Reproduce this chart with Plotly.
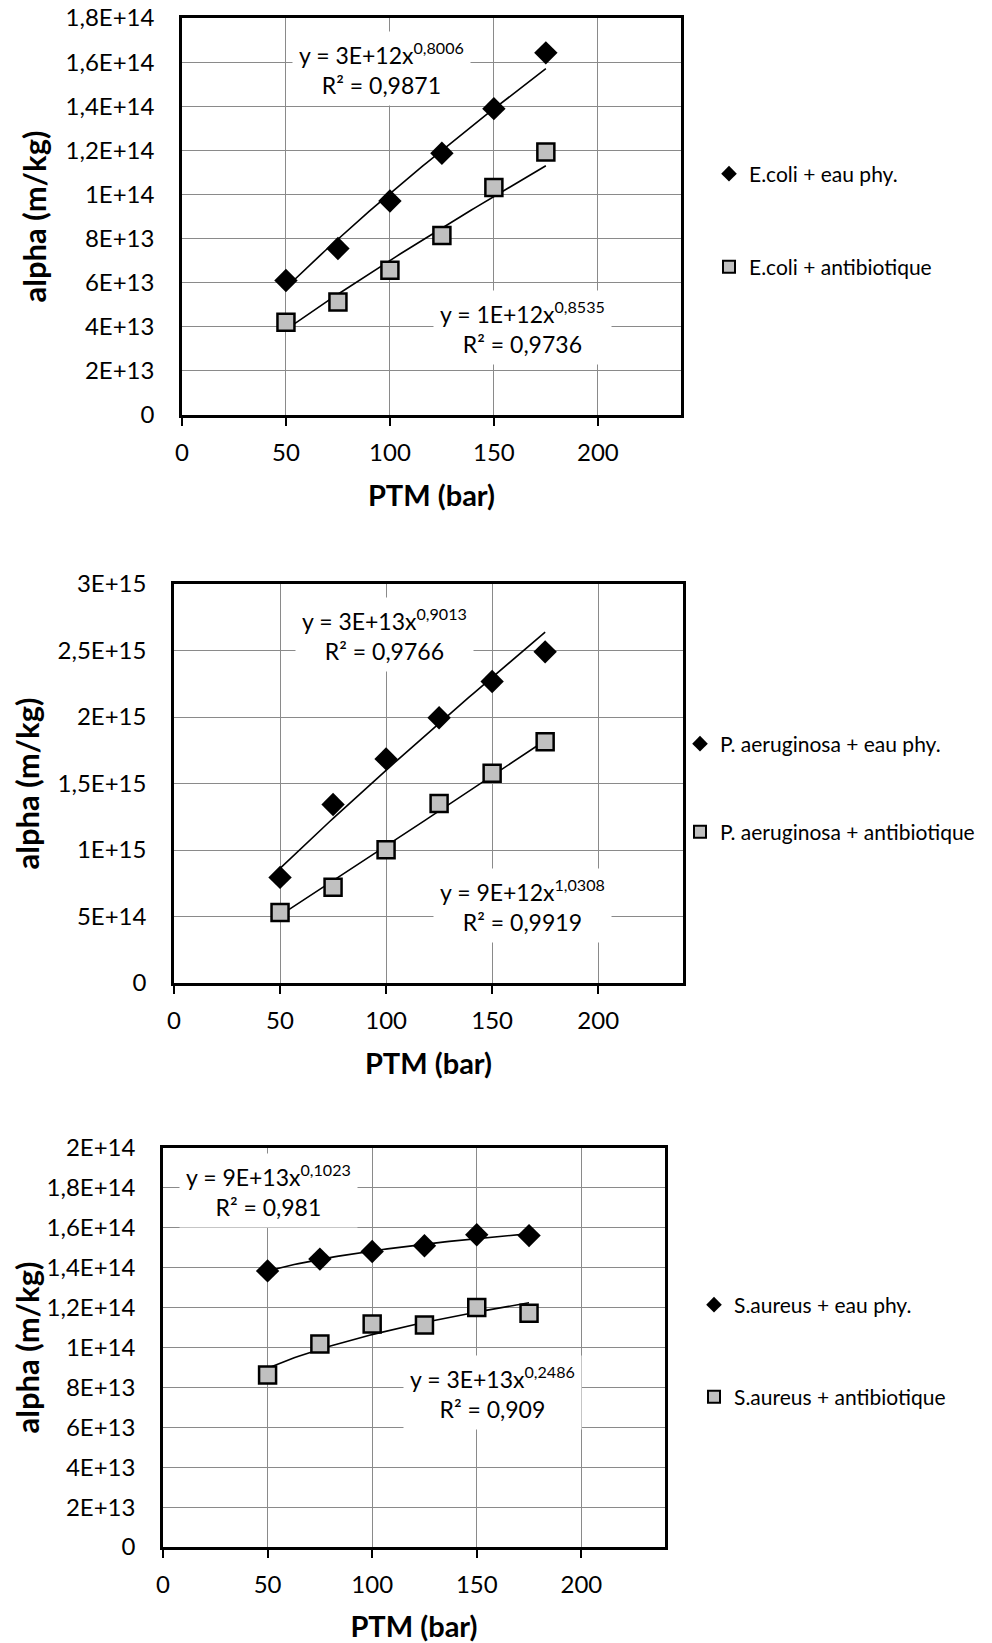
import numpy as np
import plotly.graph_objects as go

# ---------------- data ----------------
ptm = [50, 75, 100, 125, 150, 175]

ecoli_eau = [6.1e13, 7.55e13, 9.7e13, 1.187e14, 1.389e14, 1.642e14]
ecoli_anti = [4.2e13, 5.12e13, 6.56e13, 8.14e13, 1.031e14, 1.192e14]

paer_eau = [7.94e14, 1.342e15, 1.685e15, 1.994e15, 2.267e15, 2.49e15]
paer_anti = [5.31e14, 7.19e14, 1.001e15, 1.35e15, 1.578e15, 1.814e15]

saur_eau = [1.384e14, 1.443e14, 1.481e14, 1.51e14, 1.565e14, 1.561e14]
saur_anti = [8.62e13, 1.018e14, 1.118e14, 1.113e14, 1.2e14, 1.172e14]

names_eau = ["E.coli + eau phy.", "P. aeruginosa + eau phy.", "S.aureus + eau phy."]
names_anti = ["E.coli + antibiotique", "P. aeruginosa + antibiotique", "S.aureus + antibiotique"]

eq_eau = ["y = 3E+12x<sup>0,8006</sup><br>R² = 0,9871",
          "y = 3E+13x<sup>0,9013</sup><br>R² = 0,9766",
          "y = 9E+13x<sup>0,1023</sup><br>R² = 0,981"]
eq_anti = ["y = 1E+12x<sup>0,8535</sup><br>R² = 0,9736",
           "y = 9E+12x<sup>1,0308</sup><br>R² = 0,9919",
           "y = 3E+13x<sup>0,2486</sup><br>R² = 0,909"]

x_ticks = [0, 50, 100, 150, 200]
y1_ticks = [0, 2e13, 4e13, 6e13, 8e13, 1e14, 1.2e14, 1.4e14, 1.6e14, 1.8e14]
y1_labels = ["0", "2E+13", "4E+13", "6E+13", "8E+13", "1E+14", "1,2E+14", "1,4E+14", "1,6E+14", "1,8E+14"]
y2_ticks = [0, 5e14, 1e15, 1.5e15, 2e15, 2.5e15, 3e15]
y2_labels = ["0", "5E+14", "1E+15", "1,5E+15", "2E+15", "2,5E+15", "3E+15"]
y3_ticks = [0, 2e13, 4e13, 6e13, 8e13, 1e14, 1.2e14, 1.4e14, 1.6e14, 1.8e14, 2e14]
y3_labels = ["0", "2E+13", "4E+13", "6E+13", "8E+13", "1E+14", "1,2E+14", "1,4E+14", "1,6E+14", "1,8E+14", "2E+14"]

# ---------------- layout geometry (page pixels) ----------------
PAGE_W, PAGE_H = 992, 1643
BODY = 8  # default body margin of the html page
W, H = PAGE_W - BODY, PAGE_H - BODY
FONT = "Lato"
panels = [
    dict(x0=182, x1=681, y0=18, y1=415, ymax=1.8e14, yt=y1_ticks, yl=y1_labels,
         eau=ecoli_eau, anti=ecoli_anti, eq1=(381, 68), eq2=(522, 328),
         leg1=(737, 174), leg2=(737, 267)),
    dict(x0=174, x1=683, y0=584, y1=983, ymax=3e15, yt=y2_ticks, yl=y2_labels,
         eau=paer_eau, anti=paer_anti, eq1=(384, 634), eq2=(522, 905),
         leg1=(708, 744), leg2=(708, 832)),
    dict(x0=163, x1=665, y0=1148, y1=1547, ymax=2e14, yt=y3_ticks, yl=y3_labels,
         eau=saur_eau, anti=saur_anti, eq1=(268, 1190), eq2=(492, 1392),
         leg1=(722, 1305), leg2=(722, 1397)),
]


def px(x):
    return (x - BODY) / W


def py(y):
    return 1 - (y - BODY) / H


def power_fit(x, y):
    b, lna = np.polyfit(np.log(x), np.log(y), 1)
    xs = np.linspace(min(x), max(x), 60)
    return xs, np.exp(lna) * xs ** b


fig = go.Figure()
layout = dict(width=W, height=H, margin=dict(l=0, r=0, t=0, b=0, autoexpand=False),
              paper_bgcolor="white", plot_bgcolor="white",
              font=dict(family=FONT, color="black"), annotations=[])

for i, p in enumerate(panels):
    k = "" if i == 0 else str(i + 1)
    xa, ya = "x" + k, "y" + k
    # trend lines (power regression, as Excel does)
    for ser in (p["eau"], p["anti"]):
        xs, ys = power_fit(ptm, ser)
        fig.add_trace(go.Scatter(x=xs, y=ys, mode="lines", line=dict(color="black", width=1.6),
                                 showlegend=False, hoverinfo="skip", xaxis=xa, yaxis=ya))
    lg1 = "legend" if i == 0 else "legend" + str(2 * i + 1)
    lg2 = "legend" + str(2 * i + 2)
    fig.add_trace(go.Scatter(x=ptm, y=p["eau"], mode="markers", name=names_eau[i],
                             marker=dict(symbol="diamond", size=18, color="black",
                                         line=dict(color="black", width=0)),
                             xaxis=xa, yaxis=ya, legend=lg1))
    fig.add_trace(go.Scatter(x=ptm, y=p["anti"], mode="markers", name=names_anti[i],
                             marker=dict(symbol="square", size=17, color="#c0c0c0",
                                         line=dict(color="black", width=2.5)),
                             xaxis=xa, yaxis=ya, legend=lg2))
    axcommon = dict(showgrid=True, gridcolor="#8a8a8a", gridwidth=1.3, showline=True,
                    linecolor="black", linewidth=2.5, mirror=True, zeroline=False,
                    automargin=False, ticklabeloverflow="allow",
                    tickfont=dict(family=FONT, size=24, color="black"))
    layout["xaxis" + k] = dict(axcommon, domain=[px(p["x0"]), px(p["x1"])], anchor=ya,
                               range=[0, 240], tickvals=x_ticks, ticks="outside", ticklen=8,
                               tickwidth=2, tickcolor="black", ticklabelstandoff=6,
                               title=dict(text="<b>PTM (bar)</b>", standoff=22,
                                          font=dict(family=FONT, size=29, color="black")))
    layout["yaxis" + k] = dict(axcommon, domain=[py(p["y1"]), py(p["y0"])], anchor=xa,
                               range=[0, p["ymax"]], tickvals=p["yt"], ticktext=p["yl"],
                               ticks="", ticklabelstandoff=20,
                               title=dict(text="<b>alpha (m/kg)</b>", standoff=10,
                                          font=dict(family=FONT, size=31, color="black")))
    for (cx, cy), txt in ((p["eq1"], eq_eau[i]), (p["eq2"], eq_anti[i])):
        layout["annotations"].append(dict(
            x=px(cx), y=py(cy), xref="paper", yref="paper", text=txt, showarrow=False,
            xanchor="center", yanchor="middle", align="center", bgcolor="white",
            borderpad=6, font=dict(family=FONT, size=23, color="black")))
    for lg, (lx, ly) in ((lg1, p["leg1"]), (lg2, p["leg2"])):
        layout[lg] = dict(x=px(lx - 28), y=py(ly), xanchor="left", yanchor="middle",
                          bgcolor="rgba(0,0,0,0)", borderwidth=0, itemsizing="constant",
                          itemwidth=30, font=dict(family=FONT, size=21, color="black"))

fig.update_layout(**layout)
fig.write_html("out.html")
